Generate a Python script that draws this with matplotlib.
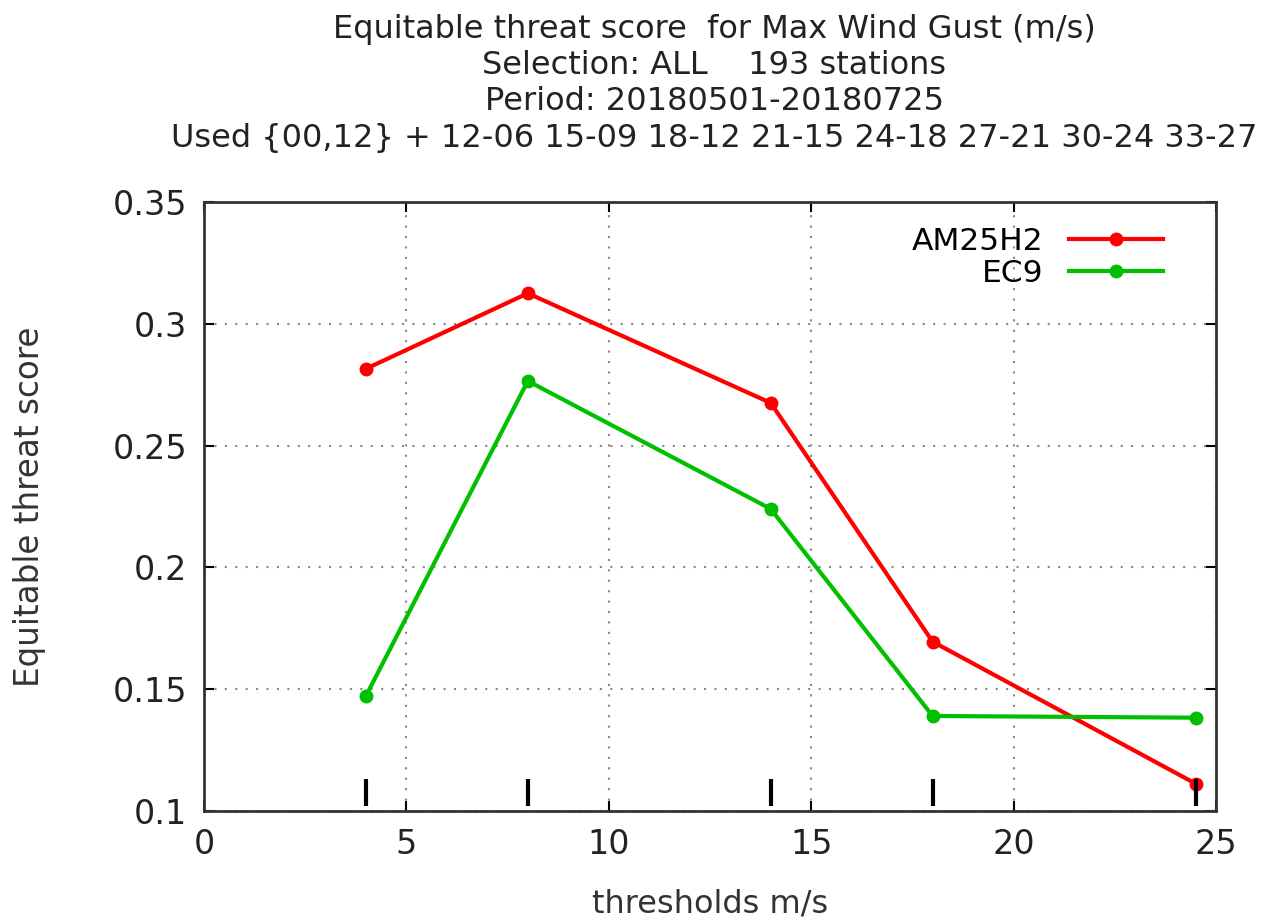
import matplotlib
matplotlib.use("Agg")
import matplotlib.pyplot as plt
from matplotlib.ticker import FuncFormatter

# Thresholds (m/s) and equitable threat scores per model
thresholds = [4, 8, 14, 18, 24.5]
am25h2 = [0.2815, 0.3125, 0.2675, 0.1695, 0.1112]
ec9 = [0.1472, 0.2765, 0.2240, 0.1390, 0.1383]
labels = ["AM25H2", "EC9"]

title_lines = [
    "Equitable threat score  for Max Wind Gust (m/s)",
    "Selection: ALL    193 stations",
    "Period: 20180501-20180725",
    "Used {00,12} + 12-06 15-09 18-12 21-15 24-18 27-21 30-24 33-27",
]

fig = plt.figure(figsize=(12.71, 9.22), dpi=100)
ax = fig.add_axes([0.1605, 0.1204, 0.7962, 0.6606])

ax.plot(thresholds, am25h2, color="#ff0000", lw=3, marker="o", ms=9, label=labels[0])
ax.plot(thresholds, ec9, color="#00c000", lw=3, marker="o", ms=9, label=labels[1])

# short black bars marking the threshold positions
ax.vlines(thresholds, 0.1022, 0.1133, color="black", lw=3)

ax.set_xlim(0, 25)
ax.set_ylim(0.1, 0.35)
ax.set_xticks([0, 5, 10, 15, 20, 25])
ax.set_yticks([0.1, 0.15, 0.2, 0.25, 0.3, 0.35])
ax.yaxis.set_major_formatter(FuncFormatter(lambda v, p: "%g" % v))
ax.tick_params(direction="in", length=7, width=1.5, top=True, right=True,
               labelsize=24, pad=12, labelcolor="#222222")
ax.grid(True, color="#888888", linestyle=(0, (1, 4)), lw=1.5)
for s in ax.spines.values():
    s.set_linewidth(2)
    s.set_color("#333333")

ax.set_xlabel("thresholds m/s", fontsize=23, labelpad=20, color="#333333")
ax.set_ylabel("Equitable threat score", fontsize=23.5, labelpad=48, color="#333333")

fig.text(0.562, 0.985, "\n".join(title_lines), ha="center", va="top",
         fontsize=23, linespacing=1.22, color="#222222")

ax.legend(loc="upper right", bbox_to_anchor=(0.975, 1.005), frameon=False,
          markerfirst=False, fontsize=22.5, handlelength=3.0, labelspacing=0.1,
          handletextpad=0.8)

fig.savefig("out.png", dpi=100)
